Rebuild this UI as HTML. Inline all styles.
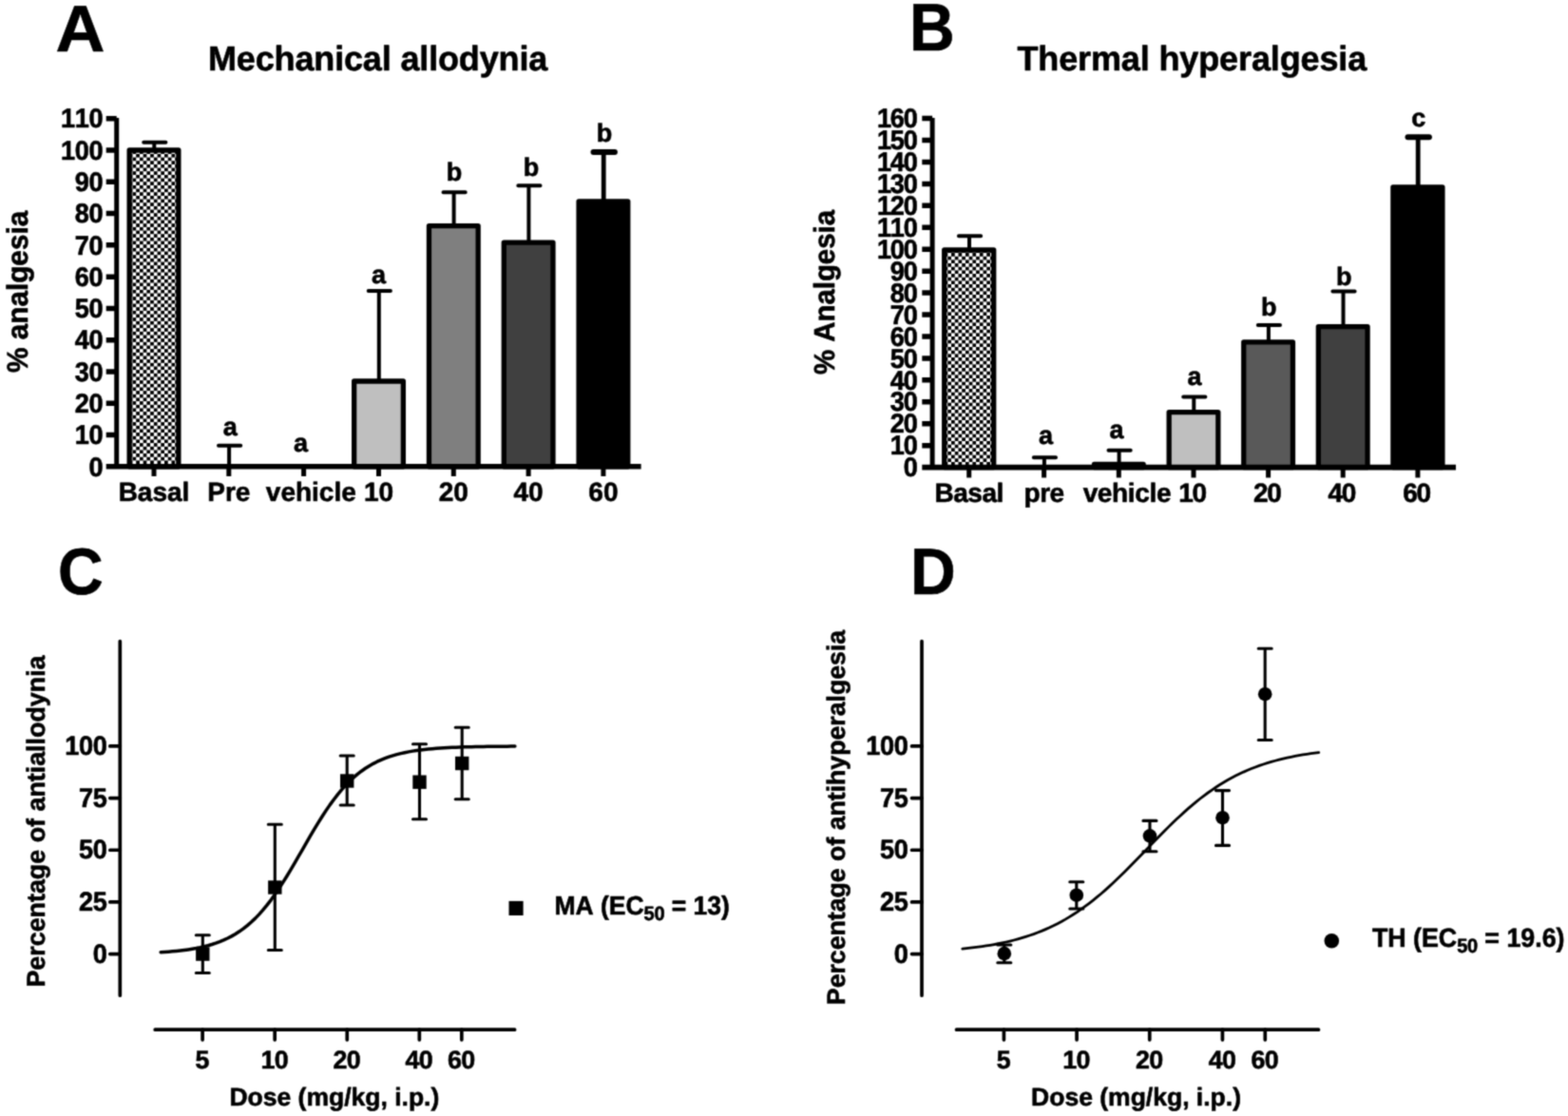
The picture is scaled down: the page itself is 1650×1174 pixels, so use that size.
<!DOCTYPE html>
<html lang="en">
<head>
<meta charset="utf-8">
<title>Analgesia dose-response figure</title>
<style>
html,body{margin:0;padding:0;background:#fff}
body{width:1650px;height:1174px;overflow:hidden}
svg{display:block}
svg text{font-family:"Liberation Sans",sans-serif;font-weight:700;fill:#000;stroke:#000;stroke-width:0.6;stroke-linejoin:round;font-kerning:none;font-variant-ligatures:none;text-rendering:geometricPrecision}
.ax{stroke:#000;fill:none}
.eb{stroke:#000;stroke-width:4;stroke-linecap:round;fill:none}
.ln{stroke:#000;stroke-width:3.7;stroke-linecap:round;stroke-linejoin:round;fill:none}
.er{stroke:#000;stroke-width:3.1;stroke-linecap:round;stroke-linejoin:round;fill:none}
.cv{stroke:#000;stroke-width:2.8;stroke-linecap:round;stroke-linejoin:round;fill:none}
</style>
</head>
<body>
<svg width="1650" height="1174" viewBox="0 0 1650 1174">
<defs>
<filter id="soft" x="0" y="0" width="1650" height="1174" filterUnits="userSpaceOnUse" color-interpolation-filters="sRGB"><feConvolveMatrix order="3" kernelMatrix="1 3 1 3 9 3 1 3 1" edgeMode="duplicate" preserveAlpha="true"/></filter>
<pattern id="chk" width="7.45" height="7.33" patternUnits="userSpaceOnUse" x="-2.07" y="4.32">
<rect width="7.45" height="7.33" fill="#fff"/>
<rect width="3.725" height="3.663" fill="#000"/>
<rect x="3.725" y="3.663" width="3.725" height="3.663" fill="#000"/>
</pattern>
<pattern id="chk2" width="7.45" height="7.33" patternUnits="userSpaceOnUse" x="-1.01" y="5.87">
<rect width="7.45" height="7.33" fill="#fff"/>
<rect width="3.725" height="3.663" fill="#000"/>
<rect x="3.725" y="3.663" width="3.725" height="3.663" fill="#000"/>
</pattern>
</defs>
<rect width="1650" height="1174" fill="#fff"/>
<g filter="url(#soft)">
<rect width="1650" height="1174" fill="#fff"/>
<g id="panelA">
<path class="eb" d="M162.3 158V149.7M151.2 149.7H174.4"/>
<rect x="136.15" y="158" width="51.7" height="332.85" fill="url(#chk)" stroke="#000" stroke-width="5.3" stroke-linejoin="round"/>
<path class="eb" d="M241.1 490.85V468.7M230 468.7H253.2"/>
<text transform="translate(242.3 457.5)" font-size="27" text-anchor="middle">a</text>
<text transform="translate(316.6 475)" font-size="27" text-anchor="middle">a</text>
<path class="eb" d="M398.8 401V306.1M387.7 306.1H410.9"/>
<rect x="372.65" y="401" width="51.7" height="89.85" fill="#bfbfbf" stroke="#000" stroke-width="5.3" stroke-linejoin="round"/>
<text transform="translate(398.5 298)" font-size="27" text-anchor="middle">a</text>
<path class="eb" d="M477.6 237.7V202.2M466.5 202.2H489.7"/>
<rect x="451.45" y="237.7" width="51.7" height="253.15" fill="#7f7f7f" stroke="#000" stroke-width="5.3" stroke-linejoin="round"/>
<text transform="translate(478 190.3)" font-size="27" text-anchor="middle">b</text>
<path class="eb" d="M556.4 255.2V195.3M545.3 195.3H568.5"/>
<rect x="530.25" y="255.2" width="51.7" height="235.65" fill="#404040" stroke="#000" stroke-width="5.3" stroke-linejoin="round"/>
<text transform="translate(559.1 185)" font-size="27" text-anchor="middle">b</text>
<path class="eb" style="stroke-width:4.8" d="M635.2 211.8V160"/>
<path class="eb" style="stroke-width:6.0" d="M624.5 160H646.9"/>
<rect x="609.05" y="211.8" width="51.7" height="279.05" fill="#000" stroke="#000" stroke-width="5.3" stroke-linejoin="round"/>
<text transform="translate(635.9 148.5)" font-size="27" text-anchor="middle">b</text>
<path class="ax" stroke-width="5" d="M122.7 123.9V490.85"/>
<path class="ax" stroke-width="5.5" d="M111.7 490.85H674.6"/>
<path class="ax" stroke-width="5.5" d="M111.7 457.56H122.7M111.7 424.28H122.7M111.7 390.99H122.7M111.7 357.7H122.7M111.7 324.42H122.7M111.7 291.13H122.7M111.7 257.85H122.7M111.7 224.56H122.7M111.7 191.27H122.7M111.7 157.99H122.7M111.7 124.7H122.7"/>
<path class="ax" stroke-width="5" d="M162 490.85V501.05M240.8 490.85V501.05M319.6 490.85V501.05M398.5 490.85V501.05M477.3 490.85V501.05M556.1 490.85V501.05M634.9 490.85V501.05"/>
<text transform="translate(108.3 500.55) scale(1 1.05)" font-size="27.1" text-anchor="end" letter-spacing="-0.3">0</text>
<text transform="translate(108.3 467.26) scale(1 1.05)" font-size="27.1" text-anchor="end" letter-spacing="-0.3">10</text>
<text transform="translate(108.3 433.98) scale(1 1.05)" font-size="27.1" text-anchor="end" letter-spacing="-0.3">20</text>
<text transform="translate(108.3 400.69) scale(1 1.05)" font-size="27.1" text-anchor="end" letter-spacing="-0.3">30</text>
<text transform="translate(108.3 367.4) scale(1 1.05)" font-size="27.1" text-anchor="end" letter-spacing="-0.3">40</text>
<text transform="translate(108.3 334.12) scale(1 1.05)" font-size="27.1" text-anchor="end" letter-spacing="-0.3">50</text>
<text transform="translate(108.3 300.83) scale(1 1.05)" font-size="27.1" text-anchor="end" letter-spacing="-0.3">60</text>
<text transform="translate(108.3 267.55) scale(1 1.05)" font-size="27.1" text-anchor="end" letter-spacing="-0.3">70</text>
<text transform="translate(108.3 234.26) scale(1 1.05)" font-size="27.1" text-anchor="end" letter-spacing="-0.3">80</text>
<text transform="translate(108.3 200.97) scale(1 1.05)" font-size="27.1" text-anchor="end" letter-spacing="-0.3">90</text>
<text transform="translate(108.3 167.69) scale(1 1.05)" font-size="27.1" text-anchor="end" letter-spacing="-0.3">100</text>
<text transform="translate(108.3 134.4) scale(1 1.05)" font-size="27.1" text-anchor="end" letter-spacing="-0.3">110</text>
<text transform="translate(162 527.3)" font-size="28.0" text-anchor="middle">Basal</text>
<text transform="translate(240.8 527.3)" font-size="28.0" text-anchor="middle">Pre</text>
<text transform="translate(327.3 527.3)" font-size="28.0" text-anchor="middle">vehicle</text>
<text transform="translate(398.5 527.3)" font-size="28.0" text-anchor="middle">10</text>
<text transform="translate(477.3 527.3)" font-size="28.0" text-anchor="middle">20</text>
<text transform="translate(556.1 527.3)" font-size="28.0" text-anchor="middle">40</text>
<text transform="translate(634.9 527.3)" font-size="28.0" text-anchor="middle">60</text>
<text transform="translate(219 74.3) scale(1 1.01)" font-size="36" letter-spacing="-0.15">Mechanical allodynia</text>
<text transform="translate(58.5 53.8) scale(1.09 1.045)" font-size="66">A</text>
<text transform="translate(29.1 306.9) rotate(-90) scale(1 1.04)" font-size="29.75" text-anchor="middle">% analgesia</text>
</g>
<g id="panelB">
<path class="eb" d="M1020 263V248.3M1008.9 248.3H1032.1"/>
<rect x="993.7" y="263" width="52" height="228.6" fill="url(#chk2)" stroke="#000" stroke-width="5.3" stroke-linejoin="round"/>
<path class="eb" d="M1098.9 491.6V481.3M1087.8 481.3H1111"/>
<text transform="translate(1100.6 467)" font-size="27" text-anchor="middle">a</text>
<path class="eb" d="M1177.6 488.4V473.7M1166.5 473.7H1189.7"/>
<rect x="1151.45" y="488.4" width="51.7" height="3.2" fill="#000" stroke="#000" stroke-width="5.3" stroke-linejoin="round"/>
<text transform="translate(1174.9 461)" font-size="27" text-anchor="middle">a</text>
<path class="eb" d="M1256.3 433.6V417.6M1245.2 417.6H1268.4"/>
<rect x="1230.15" y="433.6" width="51.7" height="58" fill="#bfbfbf" stroke="#000" stroke-width="5.3" stroke-linejoin="round"/>
<text transform="translate(1257 405)" font-size="27" text-anchor="middle">a</text>
<path class="eb" d="M1334.9 359.95V342.1M1323.8 342.1H1347"/>
<rect x="1308.75" y="359.95" width="51.7" height="131.65" fill="#595959" stroke="#000" stroke-width="5.3" stroke-linejoin="round"/>
<text transform="translate(1335.2 331.5)" font-size="27" text-anchor="middle">b</text>
<path class="eb" d="M1413.5 343.7V306.6M1402.4 306.6H1425.6"/>
<rect x="1387.35" y="343.7" width="51.7" height="147.9" fill="#404040" stroke="#000" stroke-width="5.3" stroke-linejoin="round"/>
<text transform="translate(1414.2 300)" font-size="27" text-anchor="middle">b</text>
<path class="eb" style="stroke-width:4.8" d="M1492.2 196.8V144.2"/>
<path class="eb" style="stroke-width:6.0" d="M1481.5 144.2H1503.9"/>
<rect x="1465.9" y="196.8" width="52" height="294.8" fill="#000" stroke="#000" stroke-width="5.3" stroke-linejoin="round"/>
<text transform="translate(1492.7 133)" font-size="27" text-anchor="middle">c</text>
<path class="ax" stroke-width="5" d="M981.1 123.9V491.6"/>
<path class="ax" stroke-width="5.9" d="M970.3 491.6H1532"/>
<path class="ax" stroke-width="5.5" d="M970.3 468.66H981.1M970.3 445.73H981.1M970.3 422.79H981.1M970.3 399.85H981.1M970.3 376.91H981.1M970.3 353.98H981.1M970.3 331.04H981.1M970.3 308.1H981.1M970.3 285.16H981.1M970.3 262.23H981.1M970.3 239.29H981.1M970.3 216.35H981.1M970.3 193.41H981.1M970.3 170.48H981.1M970.3 147.54H981.1M970.3 124.6H981.1"/>
<path class="ax" stroke-width="5" d="M1019.7 491.6V502.4M1098.6 491.6V502.4M1177.3 491.6V502.4M1256 491.6V502.4M1334.6 491.6V502.4M1413.2 491.6V502.4M1491.9 491.6V502.4"/>
<text transform="translate(964.6 501.3) scale(1 1.05)" font-size="27.1" text-anchor="end" letter-spacing="-1.2">0</text>
<text transform="translate(964.6 478.36) scale(1 1.05)" font-size="27.1" text-anchor="end" letter-spacing="-1.2">10</text>
<text transform="translate(964.6 455.43) scale(1 1.05)" font-size="27.1" text-anchor="end" letter-spacing="-1.2">20</text>
<text transform="translate(964.6 432.49) scale(1 1.05)" font-size="27.1" text-anchor="end" letter-spacing="-1.2">30</text>
<text transform="translate(964.6 409.55) scale(1 1.05)" font-size="27.1" text-anchor="end" letter-spacing="-1.2">40</text>
<text transform="translate(964.6 386.61) scale(1 1.05)" font-size="27.1" text-anchor="end" letter-spacing="-1.2">50</text>
<text transform="translate(964.6 363.68) scale(1 1.05)" font-size="27.1" text-anchor="end" letter-spacing="-1.2">60</text>
<text transform="translate(964.6 340.74) scale(1 1.05)" font-size="27.1" text-anchor="end" letter-spacing="-1.2">70</text>
<text transform="translate(964.6 317.8) scale(1 1.05)" font-size="27.1" text-anchor="end" letter-spacing="-1.2">80</text>
<text transform="translate(964.6 294.86) scale(1 1.05)" font-size="27.1" text-anchor="end" letter-spacing="-1.2">90</text>
<text transform="translate(964.6 271.93) scale(1 1.05)" font-size="27.1" text-anchor="end" letter-spacing="-1.2">100</text>
<text transform="translate(964.6 248.99) scale(1 1.05)" font-size="27.1" text-anchor="end" letter-spacing="-1.2">110</text>
<text transform="translate(964.6 226.05) scale(1 1.05)" font-size="27.1" text-anchor="end" letter-spacing="-1.2">120</text>
<text transform="translate(964.6 203.11) scale(1 1.05)" font-size="27.1" text-anchor="end" letter-spacing="-1.2">130</text>
<text transform="translate(964.6 180.18) scale(1 1.05)" font-size="27.1" text-anchor="end" letter-spacing="-1.2">140</text>
<text transform="translate(964.6 157.24) scale(1 1.05)" font-size="27.1" text-anchor="end" letter-spacing="-1.2">150</text>
<text transform="translate(964.6 134.3) scale(1 1.05)" font-size="27.1" text-anchor="end" letter-spacing="-1.2">160</text>
<text transform="translate(1019.7 528.4)" font-size="28.0" text-anchor="middle" letter-spacing="-0.45">Basal</text>
<text transform="translate(1098.6 528.4)" font-size="28.0" text-anchor="middle" letter-spacing="-0.45">pre</text>
<text transform="translate(1185.9 528.4)" font-size="28.0" text-anchor="middle" letter-spacing="-0.35">vehicle</text>
<text transform="translate(1254.6 528.4)" font-size="28.0" text-anchor="middle" letter-spacing="-1.3">10</text>
<text transform="translate(1333.2 528.4)" font-size="28.0" text-anchor="middle" letter-spacing="-1.3">20</text>
<text transform="translate(1411.8 528.4)" font-size="28.0" text-anchor="middle" letter-spacing="-1.3">40</text>
<text transform="translate(1490.5 528.4)" font-size="28.0" text-anchor="middle" letter-spacing="-1.3">60</text>
<text transform="translate(1070.5 74.3) scale(1 1.01)" font-size="36" letter-spacing="-0.13">Thermal hyperalgesia</text>
<text transform="translate(957 52.8) scale(1.0 1.07)" font-size="66">B</text>
<text transform="translate(878.4 307.5) rotate(-90) scale(1 1.04)" font-size="29.4" text-anchor="middle">% Analgesia</text>
</g>
<g id="panelC">
<path class="ln" d="M126.3 674.5V1047.2M163.2 1083.2H541.6"/>
<text transform="translate(112.6 1012.6) scale(1 1.04)" font-size="27.1" text-anchor="end" letter-spacing="-0.3">0</text>
<text transform="translate(112.6 957.93) scale(1 1.04)" font-size="27.1" text-anchor="end" letter-spacing="-0.3">25</text>
<text transform="translate(112.6 903.25) scale(1 1.04)" font-size="27.1" text-anchor="end" letter-spacing="-0.3">50</text>
<text transform="translate(112.6 848.58) scale(1 1.04)" font-size="27.1" text-anchor="end" letter-spacing="-0.3">75</text>
<text transform="translate(112.6 793.9) scale(1 1.04)" font-size="27.1" text-anchor="end" letter-spacing="-0.3">100</text>
<text transform="translate(212.6 1123.6)" font-size="26.8" text-anchor="middle" letter-spacing="-0.7">5</text>
<text transform="translate(288.67 1123.6)" font-size="26.8" text-anchor="middle" letter-spacing="-0.7">10</text>
<text transform="translate(364.74 1123.6)" font-size="26.8" text-anchor="middle" letter-spacing="-0.7">20</text>
<text transform="translate(440.81 1123.6)" font-size="26.8" text-anchor="middle" letter-spacing="-0.7">40</text>
<text transform="translate(485.31 1123.6)" font-size="26.8" text-anchor="middle" letter-spacing="-0.7">60</text>
<path class="ln" d="M115.8 1003.6H126.3M115.8 948.93H126.3M115.8 894.25H126.3M115.8 839.58H126.3M115.8 784.9H126.3M213.1 1083.2V1093.8M289.17 1083.2V1093.8M365.24 1083.2V1093.8M441.31 1083.2V1093.8M485.81 1083.2V1093.8"/>
<path class="cv" style="stroke-width:3.5" d="M169.15 1001.72 L173.29 1001.45 L177.43 1001.15 L181.57 1000.81 L185.71 1000.42 L189.86 999.98 L194 999.48 L198.14 998.91 L202.28 998.27 L206.42 997.54 L210.56 996.71 L214.7 995.77 L218.85 994.71 L222.99 993.51 L227.13 992.16 L231.27 990.64 L235.41 988.93 L239.55 987.02 L243.69 984.88 L247.83 982.49 L251.98 979.84 L256.12 976.89 L260.26 973.64 L264.4 970.05 L268.54 966.13 L272.68 961.85 L276.82 957.2 L280.97 952.19 L285.11 946.82 L289.25 941.09 L293.39 935.03 L297.53 928.67 L301.67 922.04 L305.81 915.17 L309.95 908.14 L314.1 900.99 L318.24 893.77 L322.38 886.56 L326.52 879.42 L330.66 872.41 L334.8 865.57 L338.94 858.97 L343.09 852.65 L347.23 846.63 L351.37 840.95 L355.51 835.62 L359.65 830.66 L363.79 826.07 L367.93 821.83 L372.08 817.95 L376.22 814.42 L380.36 811.2 L384.5 808.3 L388.64 805.68 L392.78 803.32 L396.92 801.21 L401.06 799.33 L405.21 797.65 L409.35 796.15 L413.49 794.82 L417.63 793.64 L421.77 792.6 L425.91 791.68 L430.05 790.86 L434.2 790.14 L438.34 789.51 L442.48 788.95 L446.62 788.45 L450.76 788.02 L454.9 787.64 L459.04 787.3 L463.18 787.01 L467.33 786.75 L471.47 786.52 L475.61 786.32 L479.75 786.15 L483.89 786 L488.03 785.86 L492.17 785.74 L496.32 785.64 L500.46 785.55 L504.6 785.47 L508.74 785.4 L512.88 785.34 L517.02 785.28 L521.16 785.23 L525.3 785.19 L529.45 785.16 L533.59 785.13 L537.73 785.1 L541.87 785.07"/>
<path class="er" d="M213.3 983.8V1023.45M206.3 983.8H220.3M206.3 1023.45H220.3"/>
<rect x="206.1" y="996.4" width="14.4" height="14.4"/>
<path class="er" d="M289.3 867.3V999.5M282.3 867.3H296.3M282.3 999.5H296.3"/>
<rect x="282.1" y="926.3" width="14.4" height="14.4"/>
<path class="er" d="M365.2 795V847M358.2 795H372.2M358.2 847H372.2"/>
<rect x="358" y="814.3" width="14.4" height="14.4"/>
<path class="er" d="M441.5 782.7V861.7M434.5 782.7H448.5M434.5 861.7H448.5"/>
<rect x="434.3" y="815.5" width="14.4" height="14.4"/>
<path class="er" d="M486.2 765.3V840.75M479.2 765.3H493.2M479.2 840.75H493.2"/>
<rect x="479" y="795.8" width="14.4" height="14.4"/>
<rect x="535.5" y="947.9" width="15.1" height="15.1"/>
<text transform="translate(583.4 962.2) scale(1 1.04)" font-size="26.5">MA (EC<tspan font-size="20" dy="5.1" letter-spacing="-0.3">50</tspan><tspan dy="-5.1"> = 13)</tspan></text>
<text transform="translate(241.4 1162.8)" font-size="26.5">Dose (mg/kg, i.p.)</text>
<text transform="translate(46.8 864) rotate(-90)" font-size="26.85" text-anchor="middle">Percentage of antiallodynia</text>
<text transform="translate(61 625.2) scale(1.0 1.045)" font-size="66">C</text>
</g>
<g id="panelD">
<path class="ln" d="M970 674.5V1047.2M1006.5 1083.2H1387.5"/>
<text transform="translate(955.5 1012.6) scale(1 1.04)" font-size="27.1" text-anchor="end" letter-spacing="-0.3">0</text>
<text transform="translate(955.5 957.93) scale(1 1.04)" font-size="27.1" text-anchor="end" letter-spacing="-0.3">25</text>
<text transform="translate(955.5 903.25) scale(1 1.04)" font-size="27.1" text-anchor="end" letter-spacing="-0.3">50</text>
<text transform="translate(955.5 848.58) scale(1 1.04)" font-size="27.1" text-anchor="end" letter-spacing="-0.3">75</text>
<text transform="translate(955.5 793.9) scale(1 1.04)" font-size="27.1" text-anchor="end" letter-spacing="-0.3">100</text>
<text transform="translate(1055.9 1123.6)" font-size="26.8" text-anchor="middle" letter-spacing="-0.7">5</text>
<text transform="translate(1132.57 1123.6)" font-size="26.8" text-anchor="middle" letter-spacing="-0.7">10</text>
<text transform="translate(1209.24 1123.6)" font-size="26.8" text-anchor="middle" letter-spacing="-0.7">20</text>
<text transform="translate(1285.92 1123.6)" font-size="26.8" text-anchor="middle" letter-spacing="-0.7">40</text>
<text transform="translate(1330.77 1123.6)" font-size="26.8" text-anchor="middle" letter-spacing="-0.7">60</text>
<path class="ln" d="M959.5 1003.6H970M959.5 948.93H970M959.5 894.25H970M959.5 839.58H970M959.5 784.9H970M1056.4 1083.2V1093.8M1133.07 1083.2V1093.8M1209.74 1083.2V1093.8M1286.42 1083.2V1093.8M1331.27 1083.2V1093.8"/>
<path class="cv" d="M1012.76 998.14 L1016.93 997.7 L1021.09 997.23 L1025.26 996.72 L1029.43 996.18 L1033.59 995.59 L1037.76 994.95 L1041.93 994.27 L1046.09 993.54 L1050.26 992.75 L1054.43 991.91 L1058.59 991 L1062.76 990.03 L1066.93 988.99 L1071.09 987.87 L1075.26 986.67 L1079.43 985.4 L1083.6 984.03 L1087.76 982.58 L1091.93 981.02 L1096.1 979.37 L1100.26 977.61 L1104.43 975.75 L1108.6 973.77 L1112.76 971.67 L1116.93 969.45 L1121.1 967.11 L1125.26 964.64 L1129.43 962.04 L1133.6 959.32 L1137.76 956.46 L1141.93 953.47 L1146.1 950.34 L1150.26 947.09 L1154.43 943.71 L1158.6 940.21 L1162.76 936.59 L1166.93 932.86 L1171.1 929.03 L1175.27 925.09 L1179.43 921.07 L1183.6 916.96 L1187.77 912.79 L1191.93 908.57 L1196.1 904.29 L1200.27 899.99 L1204.43 895.67 L1208.6 891.35 L1212.77 887.03 L1216.93 882.74 L1221.1 878.48 L1225.27 874.27 L1229.43 870.13 L1233.6 866.05 L1237.77 862.05 L1241.93 858.15 L1246.1 854.35 L1250.27 850.66 L1254.43 847.08 L1258.6 843.62 L1262.77 840.28 L1266.93 837.07 L1271.1 834 L1275.27 831.05 L1279.44 828.24 L1283.6 825.55 L1287.77 823 L1291.94 820.57 L1296.1 818.27 L1300.27 816.1 L1304.44 814.04 L1308.6 812.1 L1312.77 810.27 L1316.94 808.55 L1321.1 806.93 L1325.27 805.41 L1329.44 803.99 L1333.6 802.66 L1337.77 801.41 L1341.94 800.24 L1346.1 799.15 L1350.27 798.13 L1354.44 797.18 L1358.6 796.3 L1362.77 795.47 L1366.94 794.7 L1371.11 793.99 L1375.27 793.32 L1379.44 792.71 L1383.61 792.13 L1387.77 791.6"/>
<path class="er" d="M1056.8 994V1012.7M1049.8 994H1063.8M1049.8 1012.7H1063.8"/>
<circle cx="1056.8" cy="1003.15" r="7.3"/>
<path class="er" d="M1132.8 927.7V956M1125.8 927.7H1139.8M1125.8 956H1139.8"/>
<circle cx="1132.8" cy="941.7" r="7.3"/>
<path class="er" d="M1209.95 863.4V895.75M1202.95 863.4H1216.95M1202.95 895.75H1216.95"/>
<circle cx="1209.95" cy="879.3" r="7.3"/>
<path class="er" d="M1286.5 831.6V889.4M1279.5 831.6H1293.5M1279.5 889.4H1293.5"/>
<circle cx="1286.5" cy="860.2" r="7.3"/>
<path class="er" d="M1331.2 682.2V778.5M1324.2 682.2H1338.2M1324.2 778.5H1338.2"/>
<circle cx="1331.2" cy="730.2" r="7.3"/>
<circle cx="1401.3" cy="989.7" r="7.8"/>
<text transform="translate(1443.9 996.4) scale(1 1.04)" font-size="26.8">TH (EC<tspan font-size="20" dy="5.1" letter-spacing="-0.3">50</tspan><tspan dy="-5.1"> = 19.6)</tspan></text>
<text transform="translate(1085.1 1162.7)" font-size="26.5">Dose (mg/kg, i.p.)</text>
<text transform="translate(889 860) rotate(-90)" font-size="26.68" text-anchor="middle">Percentage of antihyperalgesia</text>
<text transform="translate(958 625.3) scale(1.0 1.045)" font-size="66">D</text>
</g>
</g>
</svg>
</body>
</html>
